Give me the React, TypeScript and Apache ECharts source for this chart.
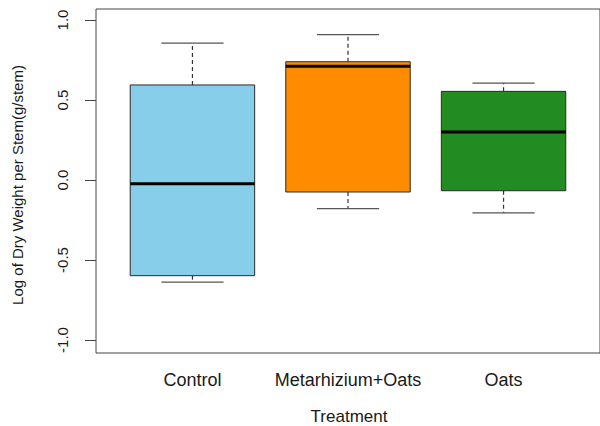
import React, { useEffect, useRef } from "react";
import * as echarts from "echarts";

const categories = ["Control", "Metarhizium+Oats", "Oats"];
const whiskerLow = [-0.638, -0.179, -0.206];
const quartile1 = [-0.598, -0.075, -0.067];
const medians = [-0.023, 0.711, 0.3];
const quartile3 = [0.594, 0.739, 0.554];
const whiskerHigh = [0.856, 0.908, 0.606];
const boxColors = ["#87CEEB", "#FF8C00", "#228B22"];
const yTickValues = [-1, -0.5, 0, 0.5, 1];
const yTickLabels = ["-1.0", "-0.5", "0.0", "0.5", "1.0"];
const xTickValues = [1, 2, 3];

const FONT = "'Liberation Sans', Arial, sans-serif";

export default function App() {
  const ref = useRef<HTMLDivElement>(null);
  useEffect(() => {
    document.body.style.margin = "0";
    if (!ref.current) return;
    const chart = echarts.init(ref.current, null, { renderer: "svg" });
    const data = categories.map((_, i) => [
      i + 1,
      whiskerLow[i],
      quartile1[i],
      medians[i],
      quartile3[i],
      whiskerHigh[i],
    ]);
    const lineColor = "#333";
    chart.setOption({
      animation: false,
      backgroundColor: "#ffffff",
      grid: {
        left: 96,
        top: 9,
        width: 507,
        height: 344,
        show: true,
        borderColor: "#444",
        borderWidth: 1,
        backgroundColor: "transparent",
      },
      xAxis: {
        type: "value",
        min: 0.38,
        max: 3.62,
        axisLine: { show: false },
        splitLine: { show: false },
        axisTick: {
          show: true,
          customValues: xTickValues,
          length: 9,
          lineStyle: { color: "#444", width: 1 },
        },
        axisLabel: {
          customValues: xTickValues,
          formatter: (v: number) => categories[Math.round(v) - 1] ?? "",
          fontFamily: FONT,
          fontSize: 18,
          color: "#1a1a1a",
          margin: 18,
        },
      },
      yAxis: {
        type: "value",
        min: -1.08125,
        max: 1.06875,
        axisLine: { show: false },
        splitLine: { show: false },
        axisTick: {
          show: true,
          customValues: yTickValues,
          length: 11,
          lineStyle: { color: "#444", width: 1 },
        },
        axisLabel: {
          customValues: yTickValues,
          formatter: (v: number) => {
            const idx = yTickValues.findIndex((t) => Math.abs(t - v) < 1e-6);
            return idx >= 0 ? yTickLabels[idx] : "";
          },
          rotate: 90,
          fontFamily: FONT,
          fontSize: 15,
          color: "#1a1a1a",
          margin: 26,
        },
      },
      graphic: [
        {
          type: "text",
          x: 17,
          y: 185,
          rotation: Math.PI / 2,
          style: {
            text: "Log of Dry Weight per Stem(g/stem)",
            fontFamily: FONT,
            fontSize: 15,
            fill: "#1a1a1a",
            textAlign: "center",
            textVerticalAlign: "middle",
          },
        },
        {
          type: "text",
          x: 349,
          y: 416,
          style: {
            text: "Treatment",
            fontFamily: FONT,
            fontSize: 17,
            fill: "#1a1a1a",
            textAlign: "center",
            textVerticalAlign: "middle",
          },
        },
      ],
      series: [
        {
          type: "custom",
          data,
          encode: { x: 0, y: [1, 2, 3, 4, 5] },
          renderItem: (params: any, api: any) => {
            const x = api.value(0);
            const idx = params.dataIndex;
            const pLow = api.coord([x, api.value(1)]);
            const pQ1 = api.coord([x, api.value(2)]);
            const pMed = api.coord([x, api.value(3)]);
            const pQ3 = api.coord([x, api.value(4)]);
            const pHigh = api.coord([x, api.value(5)]);
            const boxW = api.size([0.8, 0])[0];
            const capW = api.size([0.4, 0])[0];
            const cx = pMed[0];
            const dashStyle = {
              stroke: lineColor,
              lineWidth: 1.2,
              lineDash: [4, 3],
            };
            const solid = { stroke: "#555", lineWidth: 1.2 };
            return {
              type: "group",
              children: [
                {
                  type: "line",
                  shape: { x1: cx, y1: pQ3[1], x2: cx, y2: pHigh[1] },
                  style: dashStyle,
                },
                {
                  type: "line",
                  shape: { x1: cx, y1: pQ1[1], x2: cx, y2: pLow[1] },
                  style: dashStyle,
                },
                {
                  type: "line",
                  shape: { x1: cx - capW / 2, y1: pHigh[1], x2: cx + capW / 2, y2: pHigh[1] },
                  style: solid,
                },
                {
                  type: "line",
                  shape: { x1: cx - capW / 2, y1: pLow[1], x2: cx + capW / 2, y2: pLow[1] },
                  style: solid,
                },
                {
                  type: "rect",
                  shape: {
                    x: cx - boxW / 2,
                    y: pQ3[1],
                    width: boxW,
                    height: pQ1[1] - pQ3[1],
                  },
                  style: { fill: boxColors[idx], stroke: "#2a2a2a", lineWidth: 1 },
                },
                {
                  type: "line",
                  shape: { x1: cx - boxW / 2, y1: pMed[1], x2: cx + boxW / 2, y2: pMed[1] },
                  style: { stroke: "#000", lineWidth: 3 },
                },
              ],
            };
          },
        },
      ],
    });
    return () => chart.dispose();
  }, []);
  return <div ref={ref} style={{ width: 600, height: 426 }} />;
}
